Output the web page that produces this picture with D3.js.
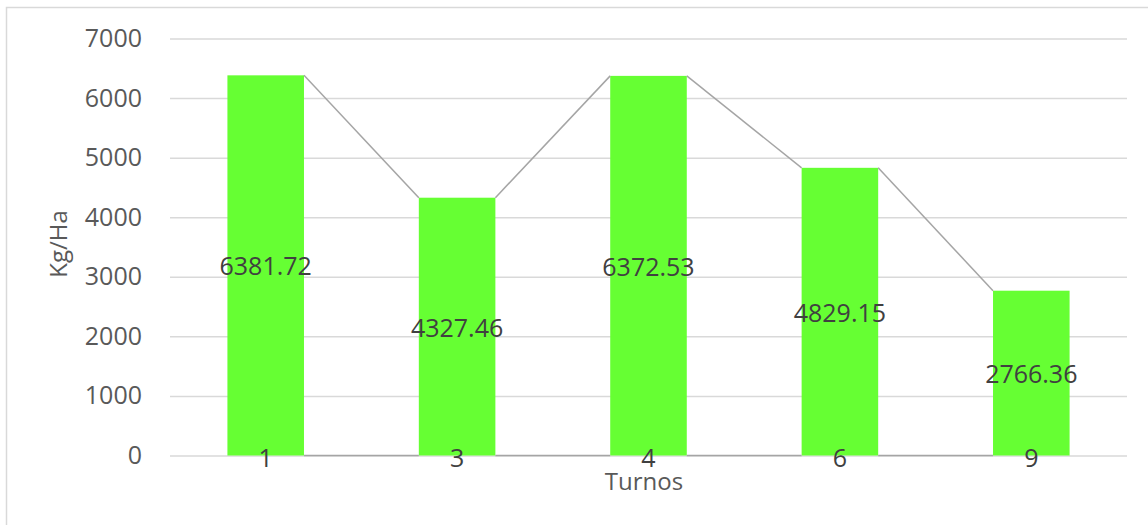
<!DOCTYPE html>
<html>
<head>
<meta charset="utf-8">
<script src="https://cdn.jsdelivr.net/npm/d3@7"></script>
<style>
  html, body { margin: 0; padding: 0; background: #fff; }
  svg { display: block; font-family: "Open Sans", "Noto Sans", sans-serif; }
</style>
</head>
<body>
<svg id="chart" width="1148" height="525"></svg>
<script>
// Yield per shift (Kg/Ha)
const turnos = ["1", "3", "4", "6", "9"];
const rendimiento = [6381.72, 4327.46, 6372.53, 4829.15, 2766.36];
const yTicks = [0, 1000, 2000, 3000, 4000, 5000, 6000, 7000];

const svg = d3.select("#chart");
const W = 1148, H = 525;
const plot = { left: 170, right: 1127, top: 38.5, bottom: 455.5 };

// chart frame (left and top edges visible)
svg.append("path")
  .attr("d", `M6.5,${H} L6.5,7.5 L${W},7.5`)
  .attr("fill", "none")
  .attr("stroke", "#d9d9d9")
  .attr("stroke-width", 1.5);

const x = d3.scaleBand()
  .domain(turnos)
  .range([plot.left, plot.right])
  .paddingInner(0.6)
  .paddingOuter(0.3);

const y = d3.scaleLinear()
  .domain([0, 7000])
  .range([plot.bottom, plot.top]);

// gridlines + value axis labels
const yAxis = d3.axisLeft(y)
  .tickValues(yTicks)
  .tickSize(-(plot.right - plot.left))
  .tickPadding(28)
  .tickFormat(d3.format("d"));

const gy = svg.append("g")
  .attr("transform", `translate(${plot.left},0)`)
  .call(yAxis);
gy.select(".domain").remove();
gy.selectAll(".tick line")
  .attr("stroke", "#d9d9d9")
  .attr("stroke-width", 1.5);
gy.selectAll(".tick text")
  .attr("fill", "#595959")
  .style("font-size", "25px")
  .style("font-family", "'Open Sans', sans-serif");

// bars
const data = turnos.map((t, i) => ({ t, v: rendimiento[i] }));
svg.append("g").selectAll("rect")
  .data(data)
  .join("rect")
  .attr("x", d => x(d.t))
  .attr("y", d => y(d.v))
  .attr("width", x.bandwidth())
  .attr("height", d => y(0) - y(d.v))
  .attr("fill", "#66ff33");

// series lines joining bar edges (tops and bases)
const lines = svg.append("g")
  .attr("fill", "none")
  .attr("stroke", "#a5a5a5")
  .attr("stroke-width", 1.5);
for (let i = 0; i < data.length - 1; i++) {
  const a = data[i], b = data[i + 1];
  lines.append("line")
    .attr("x1", x(a.t) + x.bandwidth()).attr("y1", y(a.v))
    .attr("x2", x(b.t)).attr("y2", y(b.v));
  lines.append("line")
    .attr("x1", x(a.t) + x.bandwidth()).attr("y1", y(0))
    .attr("x2", x(b.t)).attr("y2", y(0));
}

// value labels centred in each bar
svg.append("g").selectAll("text")
  .data(data)
  .join("text")
  .attr("x", d => x(d.t) + x.bandwidth() / 2)
  .attr("y", d => (y(d.v) + y(0)) / 2)
  .attr("text-anchor", "middle")
  .attr("dominant-baseline", "central")
  .attr("fill", "#404040")
  .style("font-size", "25px")
  .text(d => d.v.toFixed(2));

// shift labels at the base of each bar
svg.append("g").selectAll("text")
  .data(data)
  .join("text")
  .attr("x", d => x(d.t) + x.bandwidth() / 2)
  .attr("y", y(0) + 1)
  .attr("text-anchor", "middle")
  .attr("dominant-baseline", "central")
  .attr("fill", "#404040")
  .style("font-size", "25px")
  .text(d => d.t);

// axis titles
svg.append("text")
  .attr("x", 644)
  .attr("y", 480)
  .attr("text-anchor", "middle")
  .attr("dominant-baseline", "central")
  .attr("fill", "#595959")
  .style("font-size", "24px")
  .text("Turnos");

svg.append("text")
  .attr("transform", "translate(57,244) rotate(-90)")
  .attr("text-anchor", "middle")
  .attr("dominant-baseline", "central")
  .attr("fill", "#595959")
  .style("font-size", "24px")
  .text("Kg/Ha");
</script>
</body>
</html>
